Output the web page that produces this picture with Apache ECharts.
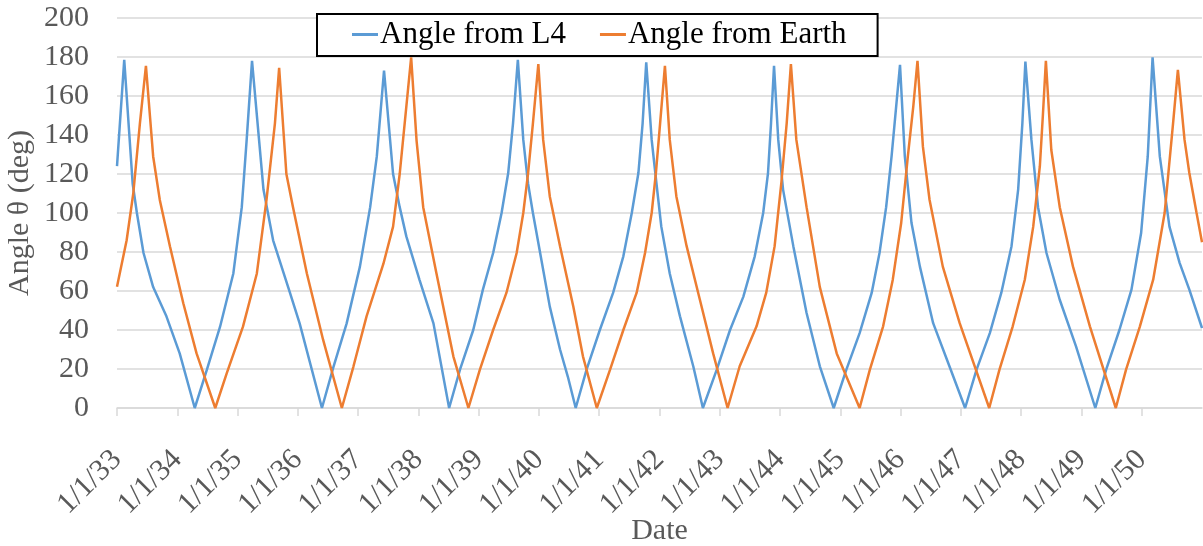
<!DOCTYPE html>
<html>
<head>
<meta charset="utf-8">
<title>Angle from L4 / Earth</title>
<script src="https://cdn.jsdelivr.net/npm/echarts@6/dist/echarts.min.js"></script>
<style>
  html, body { margin: 0; padding: 0; background: #fff; }
  #chart { width: 1203px; height: 546px; }
</style>
</head>
<body>
<div id="chart"></div>
<script>
// x values are decimal years, tick labels are 1/1/yy
var yearTicks = [2033, 2034, 2035, 2036, 2037, 2038, 2039, 2040, 2041, 2042,
  2043, 2044, 2045, 2046, 2047, 2048, 2049, 2050, 2051];

var l4Dates = [2033.00, 2033.12, 2033.26, 2033.33, 2033.44, 2033.60, 2033.82, 2034.04, 2034.29,
  2034.49, 2034.71, 2034.93, 2035.07, 2035.15, 2035.24, 2035.43, 2035.59, 2035.87, 2036.03, 2036.40,
  2036.59, 2036.81, 2037.03, 2037.20, 2037.31, 2037.43, 2037.58, 2037.69, 2037.80, 2038.02, 2038.25, 2038.51,
  2038.69, 2038.91, 2039.07, 2039.24, 2039.38, 2039.49, 2039.57, 2039.65, 2039.74, 2039.82, 2039.90, 2040.02,
  2040.18, 2040.35, 2040.48, 2040.61, 2040.79, 2041.01, 2041.23, 2041.40, 2041.54, 2041.65, 2041.72, 2041.78,
  2041.87, 2041.95, 2042.03, 2042.17, 2042.34, 2042.56, 2042.72, 2042.95, 2043.17, 2043.39, 2043.58, 2043.72,
  2043.80, 2043.85, 2043.90, 2043.97, 2044.05, 2044.22, 2044.44, 2044.66, 2044.89, 2045.10, 2045.32, 2045.52,
  2045.65, 2045.76, 2045.85, 2045.99, 2046.07, 2046.18, 2046.32, 2046.54, 2046.81, 2047.07, 2047.26, 2047.48,
  2047.67, 2047.84, 2047.95, 2048.02, 2048.07, 2048.17, 2048.28, 2048.42, 2048.64, 2048.91, 2049.23, 2049.41,
  2049.63, 2049.83, 2049.99, 2050.10, 2050.18, 2050.30, 2050.46, 2050.63, 2050.79, 2051.00];
var l4Angles = [124, 178.5, 115, 100, 79.5, 62, 47, 28, 0,
  19.5, 41.7, 69, 103, 137, 178, 112, 86, 59, 43.4, 0,
  21, 43.4, 72.5, 103, 129, 173, 120, 103, 88, 65.6, 43.4, 0,
  19.7, 40, 60.7, 79.5, 100, 120.5, 146, 178.5, 137.6, 115, 100, 79.5,
  52, 30, 16, 0, 19.7, 40, 59, 77.8, 100, 120.5, 146, 177.3,
  137.6, 115, 93, 69, 47, 21.4, 0, 19.7, 40, 57, 77.8, 100,
  120.5, 146, 175.5, 137.6, 112, 83, 48.7, 21.4, 0, 19.7, 38.4, 59,
  79.5, 103, 129, 176, 129, 95, 72.5, 43.5, 21.4, 0, 19.7, 38.4,
  59, 83, 112, 146, 177.6, 137.6, 103, 79.5, 55.5, 31.6, 0, 19.7,
  40, 60.7, 89.7, 129, 179.8, 129, 93, 74.3, 60.7, 41];

var earthDates = [2033.00, 2033.16, 2033.27, 2033.38, 2033.48, 2033.60, 2033.71, 2033.88, 2034.10, 2034.32,
  2034.63, 2034.82, 2035.09, 2035.32, 2035.48, 2035.62, 2035.69, 2035.81, 2035.92, 2036.15, 2036.42,
  2036.73, 2036.92, 2037.14, 2037.42, 2037.58, 2037.69, 2037.80, 2037.88, 2037.97, 2038.08, 2038.30, 2038.58,
  2038.83, 2039.02, 2039.24, 2039.46, 2039.63, 2039.74, 2039.82, 2039.90, 2039.99, 2040.07, 2040.18, 2040.35,
  2040.57, 2040.73, 2040.96, 2041.18, 2041.40, 2041.62, 2041.76, 2041.87, 2041.94, 2042.01, 2042.09, 2042.17,
  2042.28, 2042.45, 2042.67, 2042.89, 2043.13, 2043.33, 2043.61, 2043.77, 2043.91, 2044.02, 2044.11, 2044.18,
  2044.27, 2044.44, 2044.66, 2044.94, 2045.32, 2045.49, 2045.71, 2045.87, 2046.01, 2046.12, 2046.21, 2046.28,
  2046.37, 2046.48, 2046.70, 2046.98, 2047.47, 2047.64, 2047.86, 2048.06, 2048.20, 2048.31, 2048.36, 2048.41,
  2048.50, 2048.64, 2048.86, 2049.14, 2049.57, 2049.74, 2049.97, 2050.19, 2050.38, 2050.52, 2050.60, 2050.71,
  2050.79, 2050.91, 2051.00];
var earthAngles = [62.2, 86, 110, 146, 175.5, 129, 106.7, 82.7, 53.7, 28,
  0, 17.8, 41.7, 69, 106.7, 146, 174.5, 120, 103, 69, 34.9,
  0, 21, 47, 74, 93, 120, 154.5, 179.8, 137, 103, 69, 26.5,
  0, 19.7, 40, 59, 79.5, 100, 120.5, 146, 176.4, 137.6, 108.5, 83,
  52, 26.5, 0, 19.7, 40, 59, 79.5, 100, 120.5, 146, 175.5, 137.6,
  108.5, 83, 55.5, 28, 0, 21.4, 41.9, 59, 83, 115, 146, 176.4,
  137.6, 103, 62, 28, 0, 19.7, 41.9, 65.8, 95, 129, 154.6, 178,
  134, 106.8, 72.5, 43.5, 0, 19.7, 41.9, 65.8, 93, 124, 150, 178,
  132.3, 103, 72.5, 41.9, 0, 19.7, 41.9, 65.8, 100, 146, 173.4, 137.6,
  120.5, 100, 85];

var seriesNames = ["Angle from L4", "Angle from Earth"];
var seriesColors = ["#5b9bd5", "#ed7d31"];

function pairs(xs, ys) {
  return xs.map(function (x, i) { return [x, ys[i]]; });
}

var serif = "'Liberation Serif', 'Times New Roman', serif";
var chart = echarts.init(document.getElementById("chart"));

var option = {
  animation: false,
  backgroundColor: "#fff",
  grid: {
    left: 117,
    right: 1,
    top: 18,
    bottom: 138,
    outerBoundsMode: "none"
  },
  legend: {
    left: 317,
    top: 14,
    padding: [5, 31, 6, 35],
    borderColor: "#000",
    borderWidth: 2,
    backgroundColor: "#fff",
    itemWidth: 26,
    itemHeight: 3,
    itemGap: 34,
    icon: "rect",
    textStyle: { fontFamily: serif, fontSize: 31, color: "#000", padding: [0, 0, 0, -3] },
    data: seriesNames
  },
  xAxis: {
    type: "value",
    min: yearTicks[0],
    max: yearTicks[yearTicks.length - 1],
    interval: 1,
    name: "Date",
    nameLocation: "middle",
    nameGap: 108,
    nameMoveOverlap: false,
    nameTextStyle: { fontFamily: serif, fontSize: 30, color: "#595959" },
    axisLine: { lineStyle: { color: "#d9d9d9", width: 1.5 } },
    axisTick: { show: true, length: 8, lineStyle: { color: "#d9d9d9", width: 1.5 } },
    splitLine: { show: false },
    axisLabel: {
      rotate: 45,
      margin: 47,
      fontFamily: serif,
      fontSize: 30,
      color: "#595959",
      showMaxLabel: false,
      formatter: function (v) {
        if (yearTicks.indexOf(v) < 0 || v === yearTicks[yearTicks.length - 1]) return "";
        return "1/1/" + String(v).slice(2);
      }
    }
  },
  yAxis: {
    type: "value",
    min: 0,
    max: 200,
    interval: 20,
    name: "Angle θ (deg)",
    nameLocation: "middle",
    nameGap: 82,
    nameMoveOverlap: false,
    nameTextStyle: { fontFamily: serif, fontSize: 30, color: "#595959" },
    axisLine: { show: false },
    axisTick: { show: false },
    splitLine: { lineStyle: { color: "#d9d9d9", width: 1.5 } },
    axisLabel: { margin: 28, fontFamily: serif, fontSize: 30, color: "#595959" }
  },
  series: [
    {
      name: seriesNames[0],
      type: "line",
      data: pairs(l4Dates, l4Angles),
      showSymbol: false,
      color: seriesColors[0],
      lineStyle: { width: 2.5, color: seriesColors[0] }
    },
    {
      name: seriesNames[1],
      type: "line",
      data: pairs(earthDates, earthAngles),
      showSymbol: false,
      color: seriesColors[1],
      lineStyle: { width: 2.5, color: seriesColors[1] }
    }
  ]
};

chart.setOption(option);
</script>
</body>
</html>
